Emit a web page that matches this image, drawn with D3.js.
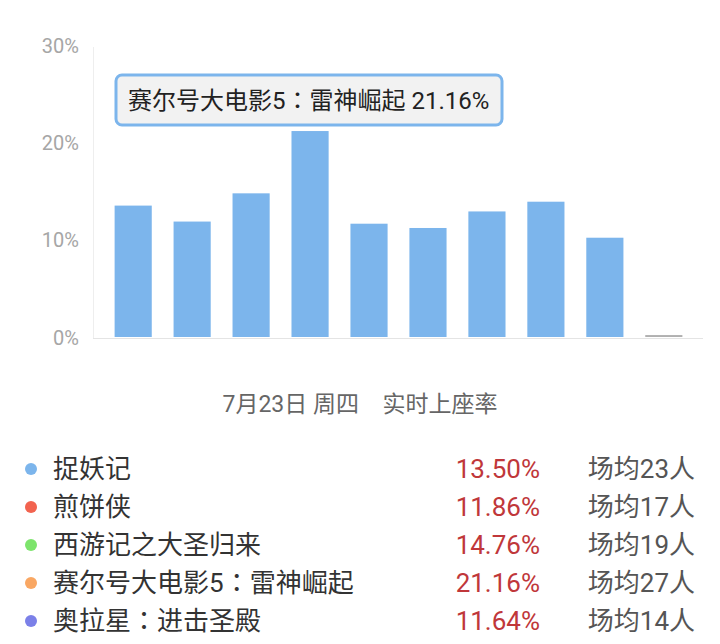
<!DOCTYPE html>
<html lang="zh">
<head>
    <meta charset="UTF-8">
    <title>实时上座率</title>
    <style>
        body { margin: 0; background: #fff; }
        text { font-family: Roboto, "Noto Sans CJK SC", sans-serif; }
        .tick text { fill: #a6a6a6; font-size: 20px; }
        .colon { font-family: "Noto Sans CJK TC", sans-serif; }
    </style>
    <script src="https://d3js.org/d3.v7.min.js"></script>
</head>
<body>
    <script>
        // bar values (seat rate, %)
        const barKeys = ["m1", "m2", "m3", "m4", "m5", "m6", "m7", "m8", "m9", "m10"];
        const rates = [13.50, 11.86, 14.76, 21.16, 11.64, 11.2, 12.9, 13.9, 10.2, 0.2];
        const yTicks = [0, 10, 20, 30];

        // legend rows
        const names = ["捉妖记", "煎饼侠", "西游记之大圣归来", "赛尔号大电影5：雷神崛起", "奥拉星：进击圣殿"];
        const legendRates = ["13.50%", "11.86%", "14.76%", "21.16%", "11.64%"];
        const avgPeople = [23, 17, 19, 27, 14];
        const dotColors = ["#7cb5ec", "#f2634f", "#7de46c", "#f9a763", "#7b80e8"];

        const title = "7月23日 周四\u2003实时上座率";
        const tipIndex = 3;

        const width = 720, height = 644;
        const svg = d3.select("body").append("svg")
            .attr("width", width)
            .attr("height", height);

        // full-width colon drawn centred, the way the original font shows it
        function fillText(sel, str) {
            str.split("：").forEach((part, i) => {
                if (i > 0) sel.append("tspan").attr("class", "colon").attr("xml:lang", "zh-TW").text("：");
                sel.append("tspan").text(part);
            });
        }

        const x = d3.scaleBand()
            .domain(barKeys)
            .range([104, 693])
            .paddingInner(0.37)
            .paddingOuter(0.18);

        const y = d3.scaleLinear()
            .domain([0, 30])
            .range([337, 45]);

        // axis lines
        svg.append("line")
            .attr("x1", 93.5).attr("x2", 93.5)
            .attr("y1", 47).attr("y2", 338)
            .attr("stroke", "#eeeeee");
        svg.append("line")
            .attr("x1", 93).attr("x2", 703)
            .attr("y1", 338.5).attr("y2", 338.5)
            .attr("stroke", "#e4e4e4");

        const yAxis = svg.append("g")
            .attr("transform", "translate(79,0)")
            .call(d3.axisLeft(y).tickValues(yTicks).tickSize(0).tickPadding(0)
                .tickFormat(d => d + "%"));
        yAxis.select(".domain").remove();
        yAxis.selectAll("text").attr("dy", "0.36em");

        svg.selectAll(".bar")
            .data(rates)
            .enter().append("rect")
            .attr("class", "bar")
            .attr("x", (d, i) => x(barKeys[i]))
            .attr("width", x.bandwidth())
            .attr("y", d => y(d))
            .attr("height", d => y(0) - y(d))
            .attr("fill", (d, i) => i === barKeys.length - 1 ? "#b0b0b0" : "#7cb5ec");

        // tooltip
        const tip = svg.append("g").attr("transform", "translate(116,75)");
        tip.append("rect")
            .attr("width", 386).attr("height", 50)
            .attr("rx", 6)
            .attr("fill", "#f2f2f2")
            .attr("stroke", "#7cb5ec")
            .attr("stroke-width", 3);
        tip.append("text")
            .attr("x", 12).attr("y", 25)
            .attr("dy", "0.36em")
            .attr("font-size", 24)
            .attr("fill", "#222")
            .call(fillText, names[tipIndex] + " " + rates[tipIndex].toFixed(2) + "%");

        // title
        svg.append("text")
            .attr("x", 360).attr("y", 404)
            .attr("dy", "0.36em")
            .attr("text-anchor", "middle")
            .attr("font-size", 23)
            .attr("fill", "#666")
            .text(title);

        // legend
        const rows = svg.selectAll(".row")
            .data(names)
            .enter().append("g")
            .attr("class", "row")
            .attr("transform", (d, i) => `translate(0,${469 + i * 38})`);

        rows.append("circle")
            .attr("cx", 31).attr("cy", 0).attr("r", 6)
            .attr("fill", (d, i) => dotColors[i]);

        rows.append("text")
            .attr("x", 53).attr("dy", "0.36em")
            .attr("font-size", 26)
            .attr("fill", "#333")
            .each(function (d) { fillText(d3.select(this), d); });

        rows.append("text")
            .attr("x", 540).attr("dy", "0.36em")
            .attr("text-anchor", "end")
            .attr("font-size", 26)
            .attr("fill", "#c0373a")
            .text((d, i) => legendRates[i]);

        rows.append("text")
            .attr("x", 695).attr("dy", "0.36em")
            .attr("text-anchor", "end")
            .attr("font-size", 26)
            .attr("fill", "#555")
            .text((d, i) => "场均" + avgPeople[i] + "人");
    </script>
</body>
</html>
